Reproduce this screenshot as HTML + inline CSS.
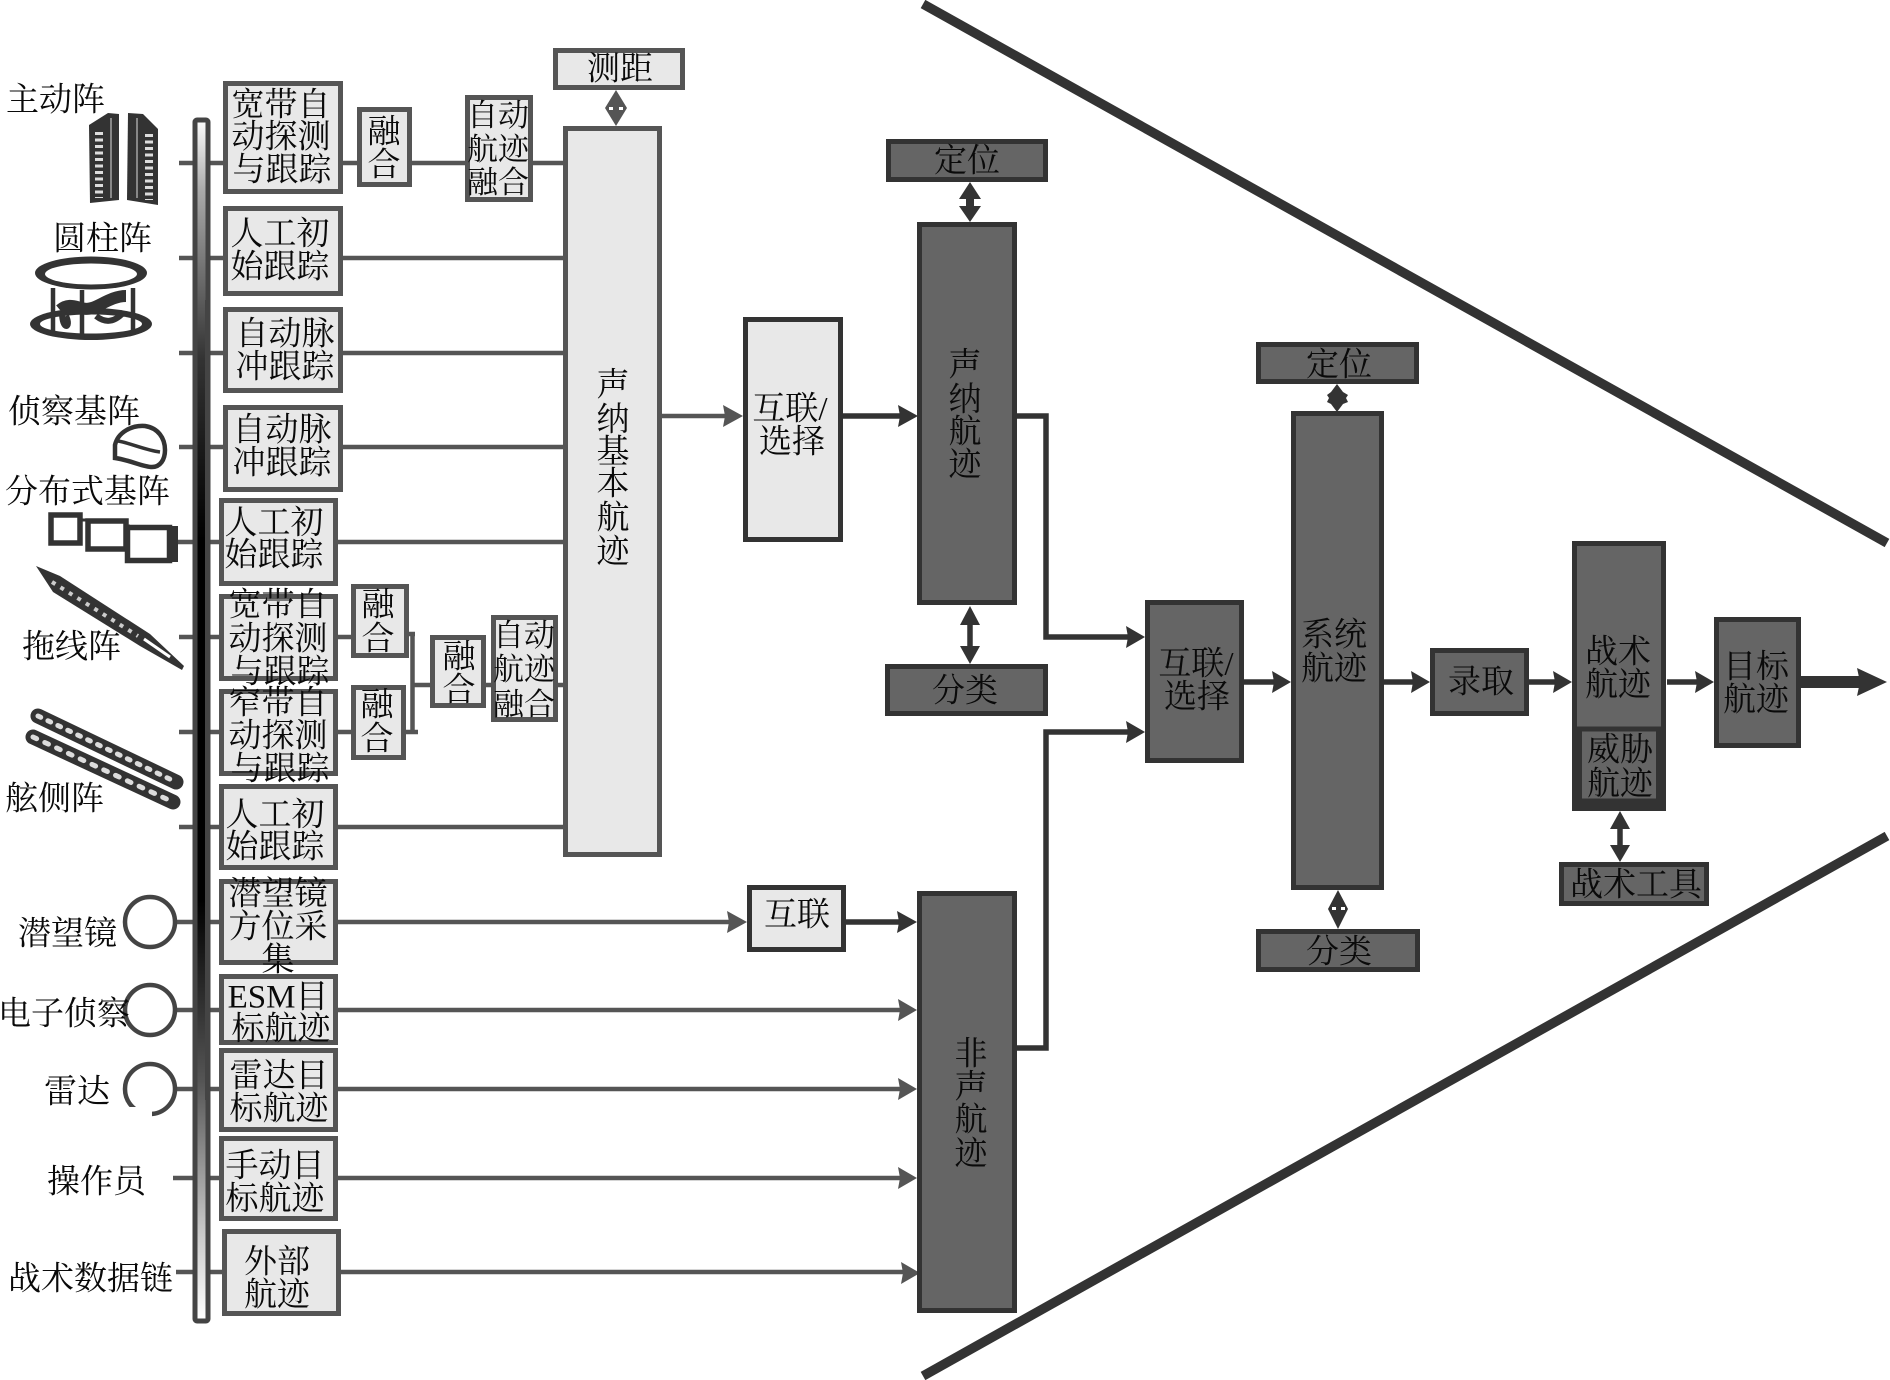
<!DOCTYPE html>
<html lang="zh"><head><meta charset="utf-8"><title>diagram</title>
<style>
html,body{margin:0;padding:0;background:#fff}
svg{display:block}
text{font-family:"Liberation Serif","Noto Serif CJK SC",serif;font-size:33px;fill:#0a0a0a;dominant-baseline:central;transform:translateY(2.5px)}
text.n{font-size:31px}
.m{text-anchor:middle}
.l rect,rect.l{fill:#e8e8e8;stroke:#555;stroke-width:5}
rect.d{fill:#656565;stroke:#333;stroke-width:5}
.g{stroke:#555;stroke-width:4.5;fill:none}
.k{stroke:#333;stroke-width:5.5;fill:none}
polygon.g2{fill:#555}polygon.k2{fill:#333}
</style></head><body>
<svg width="1890" height="1380" viewBox="0 0 1890 1380" xmlns="http://www.w3.org/2000/svg">
<defs>
<linearGradient id="bar" x1="0" y1="118" x2="0" y2="1322" gradientUnits="userSpaceOnUse">
<stop offset="0" stop-color="#fff"/><stop offset=".06" stop-color="#aaa"/><stop offset=".2" stop-color="#333"/><stop offset=".35" stop-color="#000"/><stop offset=".65" stop-color="#000"/><stop offset=".8" stop-color="#555"/><stop offset=".93" stop-color="#ccc"/><stop offset="1" stop-color="#fff"/>
</linearGradient>
</defs>
<rect width="1890" height="1380" fill="#fff"/>

<!-- big funnel lines -->
<line x1="923" y1="4" x2="1887" y2="543" stroke="#333" stroke-width="9.500"/>
<line x1="923" y1="1376" x2="1887" y2="836" stroke="#333" stroke-width="9.500"/>

<!-- connectors -->
<g class="g">
<path d="M179 163H223M343 163H357M412 163H465M533 163H563"/>
<path d="M179 258H223M343 258H563"/>
<path d="M179 353H223M343 353H563"/>
<path d="M179 447H223M343 447H563"/>
<path d="M176 542H219M338 542H563"/>
<path d="M179 637H219M338 637H351"/>
<path d="M179 732H219M338 732H351"/>
<path d="M179 827H219M338 827H563"/>
<path d="M175 922H219M338 922H732"/>
<path d="M175 1010H219M338 1010H905"/>
<path d="M175 1089H219M338 1089H905"/>
<path d="M173 1178H219M338 1178H905"/>
<path d="M176 1272H222M341 1272H905"/>
<path d="M409 634H415M406 732H418M412.5 632V734M412 685H431M486 685H491M558 685H563"/>
<path d="M662 416H728"/>
</g>
<path class="k" d="M843 416H900M846 922H900M1017 416H1046V637H1128M1017 1048H1046V732H1128M1244 682H1275M1384 682H1415M1529 682H1558M1667 682H1700"/>
<path d="M1801 682H1860" stroke="#333" stroke-width="12" fill="none"/>
<path class="k" d="M970 190V215M970 612V658M1620 818V855"/>

<!-- arrowheads -->
<polygon class="g2" points="743,416 723,405 725,416 723,427"/>
<polygon class="g2" points="747,922 727,911 729,922 727,933"/>
<polygon class="k2" points="918,416 898,405 900,416 898,427"/>
<polygon class="k2" points="917,922 897,911 899,922 897,933"/>
<polygon class="g2" points="917,1010 898,999 900,1010 898,1021"/>
<polygon class="g2" points="917,1089 898,1078 900,1089 898,1100"/>
<polygon class="g2" points="917,1178 898,1167 900,1178 898,1189"/>
<polygon class="g2" points="920,1273 901,1262 903,1273 901,1284"/>
<polygon class="k2" points="1145,637 1126,626 1128,637 1126,648"/>
<polygon class="k2" points="1145,732 1126,721 1128,732 1126,743"/>
<polygon class="k2" points="1291,682 1272,671 1274,682 1272,693"/>
<polygon class="k2" points="1430,682 1411,671 1413,682 1411,693"/>
<polygon class="k2" points="1572,682 1553,671 1555,682 1553,693"/>
<polygon class="k2" points="1714,682 1695,671 1697,682 1695,693"/>
<polygon class="k2" points="1887,682 1857,668 1860,682 1857,696"/>
<!-- double arrows -->
<polygon class="k2" points="970,182 981,199 959,199"/><polygon class="k2" points="970,222 981,206 959,206"/>
<rect x="966" y="197" width="8" height="11" fill="#333"/>
<polygon class="k2" points="970,606 980,625 960,625"/><polygon class="k2" points="970,664 980,646 960,646"/>
<polygon class="k2" points="1620,811 1630,829 1610,829"/><polygon class="k2" points="1620,862 1630,845 1610,845"/>
<polygon fill="#555" points="616,90 627,108 616,126 605,108"/>
<rect x="609" y="107" width="4" height="3" fill="#fff"/><rect x="619" y="107" width="4" height="3" fill="#fff"/>
<polygon class="k2" points="1337,384 1343,392 1348,395 1346,398 1348,402 1343,404 1337,412 1331,404 1327,402 1329,398 1327,395 1331,392"/>
<polygon class="k2" points="1338,890 1348,909 1338,929 1328,909"/>
<rect x="1332" y="907" width="4" height="3" fill="#fff"/><rect x="1341" y="907" width="4" height="3" fill="#fff"/>

<!-- vertical bar -->
<rect x="195" y="120" width="13" height="1201" rx="2" fill="url(#bar)" stroke="#444" stroke-width="5"/>
<rect x="205" y="300" width="3" height="800" fill="#444"/>

<!-- left boxes -->
<g class="l">
<rect x="225.500" y="83.500" width="115" height="108"/>
<rect x="225.500" y="208.500" width="115" height="85"/>
<rect x="225.500" y="309.500" width="115" height="81"/>
<rect x="225.500" y="407.500" width="115" height="82"/>
<rect x="221.500" y="500.500" width="114" height="83"/>
<rect x="221.500" y="596.500" width="114" height="82"/>
<rect x="221.500" y="691.500" width="114" height="82"/>
<rect x="221.500" y="786.500" width="114" height="81"/>
<rect x="221.500" y="881.500" width="114" height="81"/>
<rect x="221.500" y="976.500" width="114" height="66"/>
<rect x="221.500" y="1050.500" width="114" height="79"/>
<rect x="221.500" y="1138.500" width="114" height="80"/>
<rect x="224.500" y="1231.500" width="114" height="82"/>
<rect x="359.500" y="109.500" width="50" height="75"/>
<rect x="467.500" y="97.500" width="63" height="102"/>
<rect x="555.500" y="50.500" width="127" height="37"/>
<rect x="565.500" y="128.500" width="94" height="726"/>
<rect x="353.500" y="586.500" width="53" height="69"/>
<rect x="353.500" y="687.500" width="50" height="70"/>
<rect x="432.500" y="637.500" width="51" height="68"/>
<rect x="493.500" y="617.500" width="62" height="102"/>
</g>
<rect class="l" x="745.500" y="319.500" width="95" height="220" style="stroke:#333"/>
<rect class="l" x="749.500" y="887.500" width="94" height="62" style="stroke:#333"/>

<!-- dark boxes -->
<rect class="d" x="888.500" y="141.500" width="157" height="38"/>
<rect class="d" x="919.500" y="224.500" width="95" height="378"/>
<rect class="d" x="887.500" y="666.500" width="158" height="47"/>
<rect class="d" x="919.500" y="893.500" width="95" height="417"/>
<rect class="d" x="1147.500" y="602.500" width="94" height="158"/>
<rect class="d" x="1258.500" y="344.500" width="158" height="37"/>
<rect class="d" x="1293.500" y="413.500" width="88" height="474"/>
<rect class="d" x="1258.500" y="931.500" width="159" height="38"/>
<rect class="d" x="1432.500" y="650.500" width="94" height="63"/>
<rect class="d" x="1574.500" y="543.500" width="89" height="265"/>
<rect class="d" x="1579.500" y="729" width="79" height="72"/>
<rect x="1574" y="800" width="90" height="9" fill="#333"/>
<rect class="d" x="1716.500" y="619.500" width="82" height="126"/>
<rect class="d" x="1561.500" y="864.500" width="145" height="39"/>

<!-- icons -->
<g fill="#333">
<polygon points="89,125 108,113 119,114 119,200 90,203"/>
<polygon points="128,113 143,114 158,129 158,205 127,200"/>
</g>
<g fill="none">
<path d="M99 132V198" stroke="#ddd" stroke-width="8" stroke-dasharray="3 3.500"/>
<path d="M149 134V200" stroke="#ddd" stroke-width="8" stroke-dasharray="3 3.500"/>
<path d="M111 118V198M137 118V198" stroke="#888" stroke-width="2"/>
</g>

<ellipse cx="91" cy="324" rx="61" ry="16" fill="#333"/>
<ellipse cx="91" cy="324" rx="51" ry="9.500" fill="#fff"/>
<ellipse cx="91" cy="273" rx="56" ry="16.500" fill="#333"/>
<ellipse cx="91" cy="274" rx="46" ry="10.500" fill="#fff"/>
<g fill="none" stroke="#333">
<path d="M53 288V335M82 290V338M133 288V335" stroke-width="4.500"/>
<path d="M60 310C72 300 80 312 92 308C100 306 112 296 126 296" stroke-width="12"/>
<path d="M62 312C62 332 72 328 66 316M96 316C105 323 114 323 124 312" stroke-width="6"/>
<path d="M115 445C118 432 132 425 145 426C158 428 165 438 165 450C165 460 160 467 152 467C143 467 130 460 115 458Z" stroke-width="4.500"/>
<path d="M118 441C130 443 145 450 160 452" stroke-width="3.500"/>
<rect x="51" y="515" width="29" height="28" stroke-width="5.500"/>
<rect x="88" y="521" width="38" height="28" stroke-width="5.500"/>
<rect x="127.500" y="527.500" width="42" height="33" stroke-width="5.500"/>
<path d="M175 526V562" stroke-width="6"/>
<path d="M80 520H88M126 526H130" stroke-width="3"/>
</g>
<polygon fill="#333" points="36,566 60,576 150,634 184,666 182,670 140,646 53,592"/>
<path d="M52 582L138 636" stroke="#ccc" stroke-width="4" stroke-dasharray="4 6"/>
<path d="M144 639L170 657" stroke="#fff" stroke-width="3"/>
<g fill="none" stroke-linecap="round">
<path d="M38 716L176 782" stroke="#333" stroke-width="15"/>
<path d="M33 737L173 802" stroke="#333" stroke-width="15"/>
<path d="M38 716L176 782" stroke="#dcdcdc" stroke-width="5" stroke-dasharray="3 8"/>
<path d="M33 737L173 802" stroke="#dcdcdc" stroke-width="5" stroke-dasharray="4 9"/>
</g>
<g fill="none" stroke="#444" stroke-width="4.500">
<circle cx="150" cy="922" r="25"/>
<circle cx="150" cy="1010" r="25"/>
<circle cx="150" cy="1089" r="25"/>
</g>
<rect x="120" y="1107" width="32" height="14" fill="#fff"/>

<!-- left labels -->
<text x="6" y="98">主动阵</text>
<text x="53" y="237">圆柱阵</text>
<text x="8" y="410">侦察基阵</text>
<text x="5" y="490">分布式基阵</text>
<text x="22" y="645">拖线阵</text>
<text x="5" y="797">舷侧阵</text>
<text x="18" y="932">潜望镜</text>
<text x="-2" y="1012">电子侦察</text>
<text x="44" y="1090">雷达</text>
<text x="47" y="1180">操作员</text>
<text x="8" y="1277">战术数据链</text>

<!-- box labels -->
<g class="m">
<text class="m" x="281" y="103">宽带自</text><text class="m" x="281" y="135">动探测</text><text class="m" x="282" y="168">与跟踪</text>
<text class="m" x="280" y="232">人工初</text><text class="m" x="280" y="265">始跟踪</text>
<text class="m" x="285" y="332">自动脉</text><text class="m" x="285" y="365">冲跟踪</text>
<text class="m" x="282" y="428">自动脉</text><text class="m" x="282" y="461">冲跟踪</text>
<text class="m" x="274" y="521">人工初</text><text class="m" x="274" y="553">始跟踪</text>
<text class="m" x="278" y="603">宽带自</text><text class="m" x="278" y="637">动探测</text><text class="m" x="280" y="670">与跟踪</text>
<text class="m" x="278" y="701">窄带自</text><text class="m" x="278" y="734">动探测</text><text class="m" x="280" y="767">与跟踪</text>
<text class="m" x="275" y="813">人工初</text><text class="m" x="275" y="845">始跟踪</text>
<text class="m" x="278" y="892">潜望镜</text><text class="m" x="278" y="925">方位采</text><text class="m" x="278" y="958">集</text>
<text class="m" x="278" y="995">ESM目</text><text class="m" x="281" y="1027">标航迹</text>
<text class="m" x="279" y="1074">雷达目</text><text class="m" x="279" y="1107">标航迹</text>
<text class="m" x="275" y="1164">手动目</text><text class="m" x="275" y="1197">标航迹</text>
<text class="m" x="277" y="1260">外部</text><text class="m" x="277" y="1293">航迹</text>
<text class="m" x="384" y="130">融</text><text class="m" x="384" y="163">合</text>
<text class="m n" x="498" y="113">自动</text><text class="m n" x="498" y="147">航迹</text><text class="m n" x="498" y="180">融合</text>
<text class="m" x="620" y="67">测距</text>
<text class="m" x="613" y="383">声</text><text class="m" x="613" y="418">纳</text><text class="m" x="613" y="450">基</text><text class="m" x="613" y="482">本</text><text class="m" x="613" y="516">航</text><text class="m" x="613" y="550">迹</text>
<text class="m" x="378" y="603">融</text><text class="m" x="378" y="637">合</text>
<text class="m" x="377" y="703">融</text><text class="m" x="377" y="737">合</text>
<text class="m" x="459" y="655">融</text><text class="m" x="459" y="688">合</text>
<text class="m n" x="524" y="633">自动</text><text class="m n" x="524" y="667">航迹</text><text class="m n" x="524" y="702">融合</text>
<text class="m" x="790" y="407">互联/</text><text class="m" x="792" y="440">选择</text>
<text class="m" x="967" y="159">定位</text>
<text class="m" x="965" y="363">声</text><text class="m" x="965" y="398">纳</text><text class="m" x="965" y="430">航</text><text class="m" x="965" y="463">迹</text>
<text class="m" x="965" y="689">分类</text>
<text class="m" x="1196" y="662">互联/</text><text class="m" x="1197" y="695">选择</text>
<text class="m" x="797" y="913">互联</text>
<text class="m" x="971" y="1052">非</text><text class="m" x="971" y="1085">声</text><text class="m" x="971" y="1118">航</text><text class="m" x="971" y="1152">迹</text>
<text class="m" x="1339" y="363">定位</text>
<text class="m" x="1334" y="633">系统</text><text class="m" x="1334" y="667">航迹</text>
<text class="m" x="1339" y="950">分类</text>
<text class="m" x="1481" y="680">录取</text>
<text class="m" x="1618" y="650">战术</text><text class="m" x="1618" y="683">航迹</text>
<text class="m" x="1620" y="748">威胁</text><text class="m" x="1620" y="782">航迹</text>
<text class="m" x="1756" y="665">目标</text><text class="m" x="1756" y="698">航迹</text>
<text class="m" x="1636" y="883">战术工具</text>
</g>
</svg>
</body></html>
